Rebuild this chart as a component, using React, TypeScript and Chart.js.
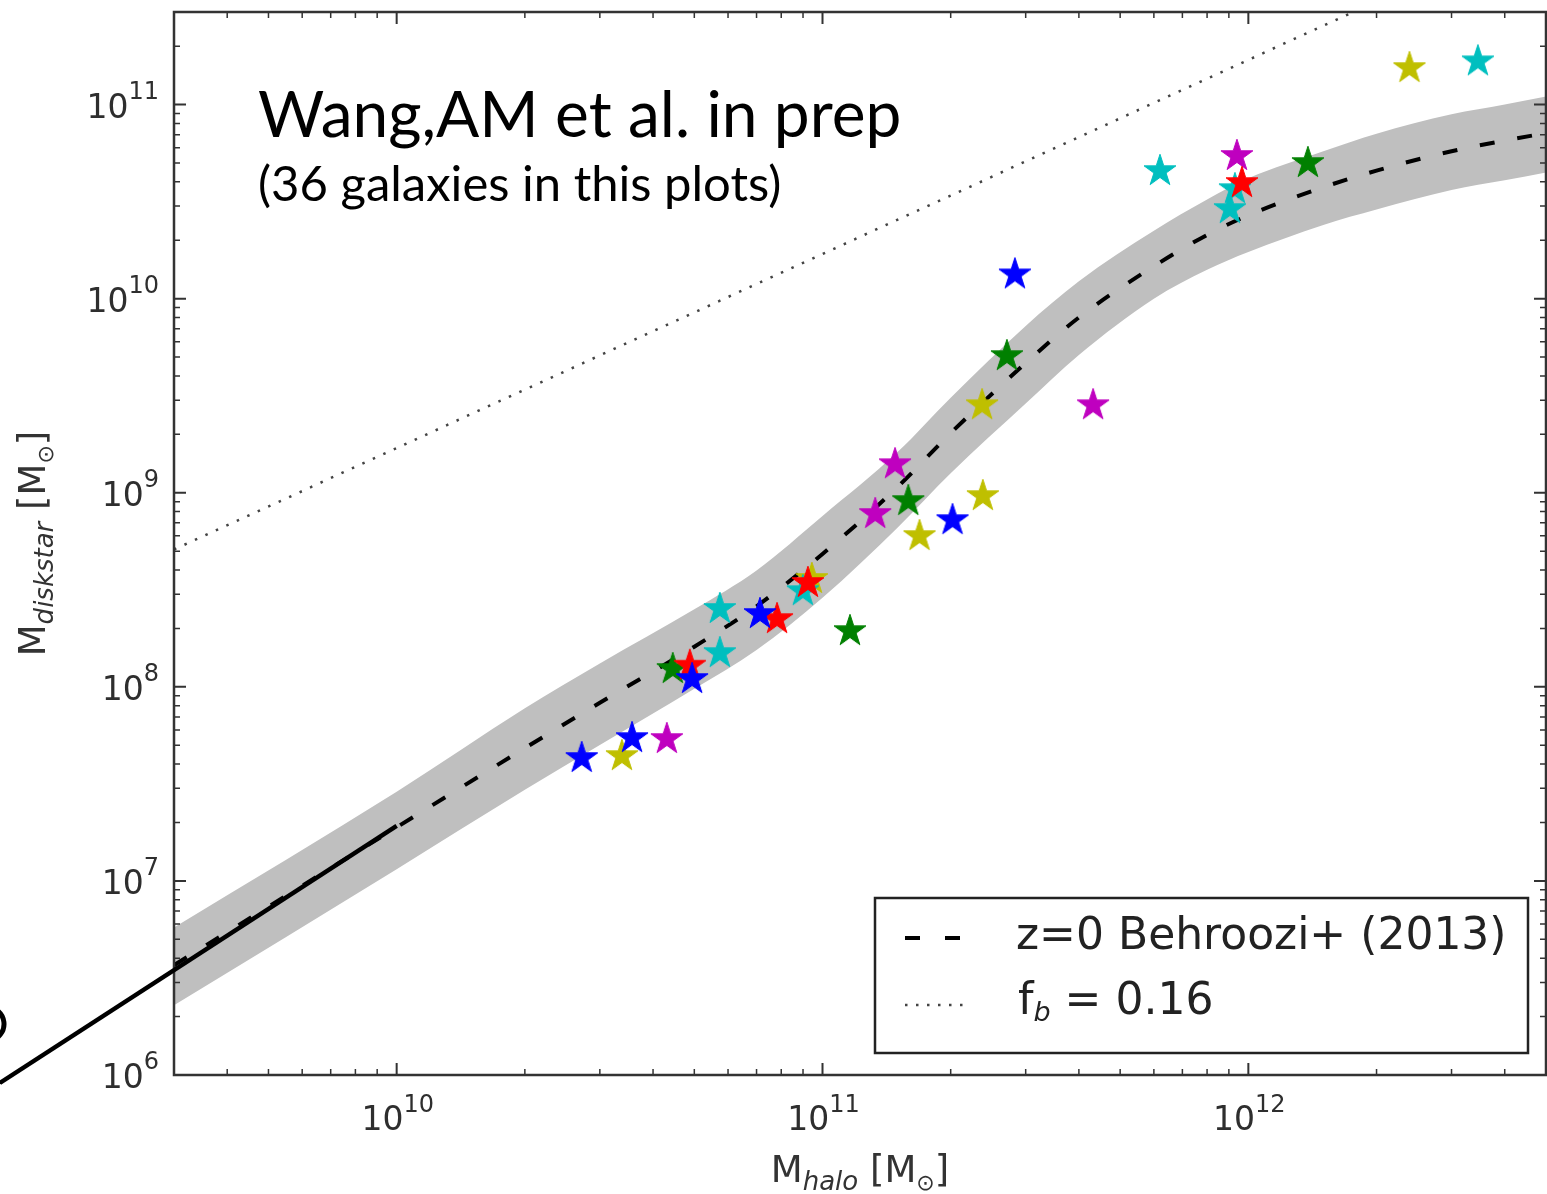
import { useEffect, useRef } from 'react';
import { Chart, registerables } from 'chart.js';

Chart.register(...registerables);

// ---- axis ranges & tick labels ----
const xRange = [3.0e9, 5.0e12];
const yRange = [1.0e6, 3.0e11];
const xTickValues = [1e10, 1e11, 1e12];
const xTickExponents = ['10', '11', '12'];
const yTickValues = [1e6, 1e7, 1e8, 1e9, 1e10, 1e11];
const yTickExponents = ['6', '7', '8', '9', '10', '11'];
const minorMultipliers = [2, 3, 4, 5, 6, 7, 8, 9];

// ---- Behroozi+ (2013) z=0 relation (median and band) ----
const haloMass = [3.0e9, 1.0e10, 2.0e10, 3.0e10, 5.0e10, 7.0e10, 1.0e11, 1.5e11, 2.0e11, 3.0e11, 4.0e11, 6.0e11, 8.0e11, 1.0e12, 1.5e12, 2.0e12, 3.0e12, 4.0e12, 5.0e12];
const behrooziMedian = [3.68e6, 1.89e7, 4.83e7, 8.28e7, 1.61e8, 2.60e8, 4.84e8, 1.07e9, 2.03e9, 4.66e9, 8.0e9, 1.47e10, 2.13e10, 2.69e10, 3.75e10, 4.57e10, 5.75e10, 6.53e10, 7.13e10];
const behrooziUpper = [5.75e6, 2.88e7, 7.76e7, 1.32e8, 2.51e8, 3.98e8, 7.59e8, 1.62e9, 3.09e9, 7.24e9, 1.23e10, 2.24e10, 3.24e10, 4.17e10, 5.75e10, 7.08e10, 8.91e10, 1.0e11, 1.10e11];
const behrooziLower = [2.29e6, 1.15e7, 2.95e7, 5.01e7, 9.77e7, 1.55e8, 2.88e8, 6.61e8, 1.26e9, 2.88e9, 5.13e9, 1.0e10, 1.41e10, 1.74e10, 2.40e10, 2.88e10, 3.63e10, 4.07e10, 4.47e10];

// ---- baryon fraction line ----
const fbHalo = [3.0e9, 5.0e12];
const fbStellar = [5.1e8, 8.5e11];

// ---- pointer line (slide annotation) ----
const pointerHalo = [1.17e9, 1.0e10];
const pointerStellar = [9.1e5, 1.92e7];

// ---- galaxies ----
const blueHalo = [2.72e10, 3.57e10, 4.94e10, 7.13e10, 2.02e11, 2.83e11];
const blueDisk = [4.35e7, 5.51e7, 1.11e8, 2.40e8, 7.31e8, 1.35e10];
const yellowHalo = [3.38e10, 9.44e10, 1.69e11, 2.38e11, 2.37e11, 2.39e12];
const yellowDisk = [4.45e7, 3.64e8, 6.05e8, 9.73e8, 2.86e9, 1.56e11];
const cyanHalo = [5.74e10, 5.74e10, 8.99e10, 6.20e11, 9.05e11, 9.30e11, 3.46e12];
const cyanDisk = [2.55e8, 1.51e8, 3.15e8, 4.60e10, 2.93e10, 3.71e10, 1.69e11];
const redHalo = [4.88e10, 7.82e10, 9.24e10, 9.66e11];
const redDisk = [1.30e8, 2.26e8, 3.47e8, 3.99e10];
const greenHalo = [4.45e10, 1.16e11, 1.59e11, 2.71e11, 1.38e12];
const greenDisk = [1.25e8, 1.96e8, 9.17e8, 5.12e9, 5.06e10];
const magentaHalo = [4.31e10, 1.33e11, 1.48e11, 4.32e11, 9.40e11];
const magentaDisk = [5.45e7, 7.86e8, 1.42e9, 2.86e9, 5.50e10];

const legendLabels = ['z=0 Behroozi+ (2013)', '= 0.16'];

const pts = (xs: number[], ys: number[]) => xs.map((x, i) => ({ x, y: ys[i] }));

function starImage(color: string): HTMLCanvasElement {
  const c = document.createElement('canvas');
  c.width = 40;
  c.height = 40;
  const g = c.getContext('2d')!;
  const R = 16.8;
  const r = R * 0.382;
  g.beginPath();
  for (let i = 0; i < 10; i++) {
    const ang = -Math.PI / 2 + (i * Math.PI) / 5;
    const rad = i % 2 === 0 ? R : r;
    const px = 20 + rad * Math.cos(ang);
    const py = 21 + rad * Math.sin(ang);
    if (i === 0) g.moveTo(px, py);
    else g.lineTo(px, py);
  }
  g.closePath();
  g.fillStyle = color;
  g.fill();
  g.strokeStyle = color;
  g.lineWidth = 1;
  g.stroke();
  return c;
}

type Run = { text: string; font: string; dy?: number };
function measureRuns(ctx: CanvasRenderingContext2D, runs: Run[]) {
  let total = 0;
  for (const r of runs) {
    ctx.font = r.font;
    total += ctx.measureText(r.text).width;
  }
  return total;
}
function drawRich(ctx: CanvasRenderingContext2D, runs: Run[], x: number, y: number, align: 'left' | 'center' | 'right') {
  const total = measureRuns(ctx, runs);
  let cx = align === 'center' ? x - total / 2 : align === 'right' ? x - total : x;
  ctx.textAlign = 'left';
  for (const r of runs) {
    ctx.font = r.font;
    ctx.fillText(r.text, cx, y + (r.dy || 0));
    cx += ctx.measureText(r.text).width;
  }
}

const SANS = "'DejaVu Sans', sans-serif";
const TICK_MAIN = `33px ${SANS}`;
const TICK_EXP = `24px ${SANS}`;

function drawFrameAndTicks(chart: any) {
  const { ctx, chartArea: a, scales } = chart;
  const xs = scales.x;
  const ys = scales.y;
  ctx.save();
  ctx.strokeStyle = '#333';
  const tick = (vals: number[], scale: any, horizontal: boolean, len: number, w: number) => {
    ctx.lineWidth = w;
    for (const v of vals) {
      if (v < scale.min || v > scale.max) continue;
      const p = scale.getPixelForValue(v);
      ctx.beginPath();
      if (horizontal) {
        ctx.moveTo(p, a.bottom); ctx.lineTo(p, a.bottom - len);
        ctx.moveTo(p, a.top); ctx.lineTo(p, a.top + len);
      } else {
        ctx.moveTo(a.left, p); ctx.lineTo(a.left + len, p);
        ctx.moveTo(a.right, p); ctx.lineTo(a.right - len, p);
      }
      ctx.stroke();
    }
  };
  const minors = (majors: number[]) => {
    const decades = [majors[0] / 10, ...majors];
    const out: number[] = [];
    for (const d of decades) for (const m of minorMultipliers) out.push(d * m);
    return out;
  };
  tick(minors(xTickValues), xs, true, 6, 1.5);
  tick(xTickValues, xs, true, 12, 2);
  tick(minors(yTickValues), ys, false, 6, 1.5);
  tick(yTickValues, ys, false, 12, 2);
  ctx.lineWidth = 2.5;
  ctx.strokeRect(a.left, a.top, a.right - a.left, a.bottom - a.top);
  ctx.restore();
}

function drawTickLabels(chart: any) {
  const { ctx, chartArea: a, scales } = chart;
  ctx.save();
  ctx.fillStyle = '#2e2e2e';
  ctx.textBaseline = 'alphabetic';
  scales.x.ticks.forEach((t: any) => {
    const i = xTickValues.indexOf(t.value);
    if (i < 0) return;
    const p = scales.x.getPixelForValue(t.value);
    drawRich(ctx, [
      { text: '10', font: TICK_MAIN },
      { text: xTickExponents[i], font: TICK_EXP, dy: -18 },
    ], p + 1, a.bottom + 55, 'center');
  });
  scales.y.ticks.forEach((t: any) => {
    const i = yTickValues.indexOf(t.value);
    if (i < 0) return;
    const p = scales.y.getPixelForValue(t.value);
    drawRich(ctx, [
      { text: '10', font: TICK_MAIN },
      { text: yTickExponents[i], font: TICK_EXP, dy: -19 },
    ], a.left - 15, p + 13, 'right');
  });
  ctx.restore();
}

const decorPlugin = {
  id: 'decor',
  beforeDatasetDraw(chart: any, args: any) {
    if (args.meta && args.meta.label === 'pointer') drawFrameAndTicks(chart);
  },
  afterDraw(chart: any) {
    const { ctx, chartArea: a } = chart;
    drawTickLabels(chart);
    ctx.save();
    // axis titles
    ctx.fillStyle = '#333';
    ctx.textBaseline = 'alphabetic';
    const main = `37px ${SANS}`;
    const sub = `italic 26px ${SANS}`;
    const sun = `22px ${SANS}`;
    drawRich(ctx, [
      { text: 'M', font: main },
      { text: 'halo', font: sub, dy: 8 },
      { text: ' [M', font: main },
      { text: '⊙', font: sun, dy: 8 },
      { text: ']', font: main },
    ], (a.left + a.right) / 2, 1182, 'center');
    ctx.save();
    ctx.translate(45, (a.top + a.bottom) / 2);
    ctx.rotate(-Math.PI / 2);
    drawRich(ctx, [
      { text: 'M', font: main },
      { text: 'diskstar', font: sub, dy: 8 },
      { text: ' [M', font: main },
      { text: '⊙', font: sun, dy: 8 },
      { text: ']', font: main },
    ], 0, 0, 'center');
    ctx.restore();

    // legend
    const lw = 653;
    const lh = 155;
    const lx = a.right - 18 - lw;
    const ly = a.bottom - 22 - lh;
    ctx.fillStyle = '#fff';
    ctx.fillRect(lx, ly, lw, lh);
    ctx.strokeStyle = '#222';
    ctx.lineWidth = 2.5;
    ctx.strokeRect(lx, ly, lw, lh);
    ctx.strokeStyle = '#000';
    ctx.lineWidth = 4;
    ctx.setLineDash([15, 25]);
    ctx.beginPath();
    ctx.moveTo(lx + 30, ly + 40);
    ctx.lineTo(lx + 88, ly + 40);
    ctx.stroke();
    ctx.strokeStyle = '#444';
    ctx.lineWidth = 2.5;
    ctx.setLineDash([2.5, 8.5]);
    ctx.beginPath();
    ctx.moveTo(lx + 30, ly + 107);
    ctx.lineTo(lx + 95, ly + 107);
    ctx.stroke();
    ctx.setLineDash([]);
    ctx.fillStyle = '#222';
    ctx.textBaseline = 'middle';
    ctx.font = `44px ${SANS}`;
    ctx.textAlign = 'left';
    ctx.fillText(legendLabels[0], lx + 141, ly + 40);
    drawRich(ctx, [
      { text: 'f', font: `44px ${SANS}` },
      { text: 'b', font: `italic 27px ${SANS}`, dy: 11 },
      { text: ' ' + legendLabels[1], font: `44px ${SANS}` },
    ], lx + 143, ly + 105, 'left');

    // slide annotation text
    ctx.fillStyle = '#000';
    ctx.textBaseline = 'alphabetic';
    ctx.textAlign = 'left';
    ctx.font = '64px Lato, sans-serif';
    ctx.fillText('Wang,AM et al. in prep', a.left + 84, 137);
    ctx.font = '49px Lato, sans-serif';
    ctx.fillText('(36 galaxies in this plots)', a.left + 84, 201);

    // cut-off glyph at the left edge
    ctx.strokeStyle = '#000';
    ctx.lineWidth = 5;
    ctx.beginPath();
    ctx.arc(-13, 1024, 17, -0.9, 0.9);
    ctx.stroke();
    ctx.restore();
  },
};

const fixBox = (w: number | null, h: number | null) => (s: any) => {
  if (w !== null) s.width = w;
  if (h !== null) s.height = h;
  s.paddingTop = 0;
  s.paddingBottom = 0;
  s.paddingLeft = 0;
  s.paddingRight = 0;
};

export default function App() {
  const ref = useRef<HTMLCanvasElement | null>(null);
  useEffect(() => {
    if (!ref.current) return;
    const starDs = (label: string, xs: number[], ys: number[], color: string, order: number) => ({
      type: 'scatter' as const,
      label,
      data: pts(xs, ys),
      pointStyle: starImage(color),
      pointRadius: 16,
      backgroundColor: color,
      borderColor: color,
      showLine: false,
      order,
    });
    const chart = new Chart(ref.current, {
      type: 'scatter',
      data: {
        datasets: [
          {
            type: 'line', label: 'band-upper', data: pts(haloMass, behrooziUpper),
            borderColor: 'rgba(0,0,0,0)', borderWidth: 0, pointRadius: 0,
            fill: '+1', backgroundColor: '#bfbfbf', cubicInterpolationMode: 'monotone', order: 10,
          },
          {
            type: 'line', label: 'band-lower', data: pts(haloMass, behrooziLower),
            borderColor: 'rgba(0,0,0,0)', borderWidth: 0, pointRadius: 0,
            fill: false, cubicInterpolationMode: 'monotone', order: 10,
          },
          {
            type: 'line', label: 'z=0 Behroozi+ (2013)', data: pts(haloMass, behrooziMedian),
            borderColor: '#000', borderWidth: 4, borderDash: [15, 23], pointRadius: 0,
            fill: false, cubicInterpolationMode: 'monotone', order: 9,
          },
          {
            type: 'line', label: 'f_b = 0.16', data: pts(fbHalo, fbStellar),
            borderColor: '#444', borderWidth: 2.5, borderDash: [2.5, 9], pointRadius: 0,
            fill: false, order: 9,
          },
          starDs('y', yellowHalo, yellowDisk, '#bfbf00', 6),
          starDs('c', cyanHalo, cyanDisk, '#00bfbf', 5),
          starDs('m', magentaHalo, magentaDisk, '#bf00bf', 4),
          starDs('g', greenHalo, greenDisk, '#008000', 3),
          starDs('r', redHalo, redDisk, '#ff0000', 2),
          starDs('b', blueHalo, blueDisk, '#0000ff', 1),
          {
            type: 'line', label: 'pointer', data: pts(pointerHalo, pointerStellar),
            borderColor: '#000', borderWidth: 4.5, pointRadius: 0, fill: false,
            clip: false, order: 0,
          },
        ] as any,
      },
      options: {
        responsive: false,
        animation: false,
        events: [],
        layout: { autoPadding: false, padding: { top: 12, right: 1, left: 0, bottom: 0 } },
        plugins: {
          legend: { display: false },
          tooltip: { enabled: false },
          title: { display: false },
        },
        scales: {
          x: {
            type: 'logarithmic',
            min: xRange[0],
            max: xRange[1],
            bounds: 'data',
            grid: { display: false },
            border: { display: false },
            afterBuildTicks: (s: any) => { s.ticks = xTickValues.map((v) => ({ value: v, major: true })); },
            afterFit: fixBox(null, 119),
            ticks: { display: false, autoSkip: false },
          },
          y: {
            type: 'logarithmic',
            min: yRange[0],
            max: yRange[1],
            bounds: 'data',
            grid: { display: false },
            border: { display: false },
            afterBuildTicks: (s: any) => { s.ticks = yTickValues.map((v) => ({ value: v, major: true })); },
            afterFit: fixBox(174, null),
            ticks: { display: false, autoSkip: false },
          },
        },
      } as any,
      plugins: [decorPlugin],
    });
    return () => chart.destroy();
  }, []);
  return (
    <div style={{ position: 'absolute', left: 0, top: 0, width: 1547, height: 1194, background: '#fff' }}>
      <canvas ref={ref} width={1547} height={1194} style={{ display: 'block' }} />
    </div>
  );
}
